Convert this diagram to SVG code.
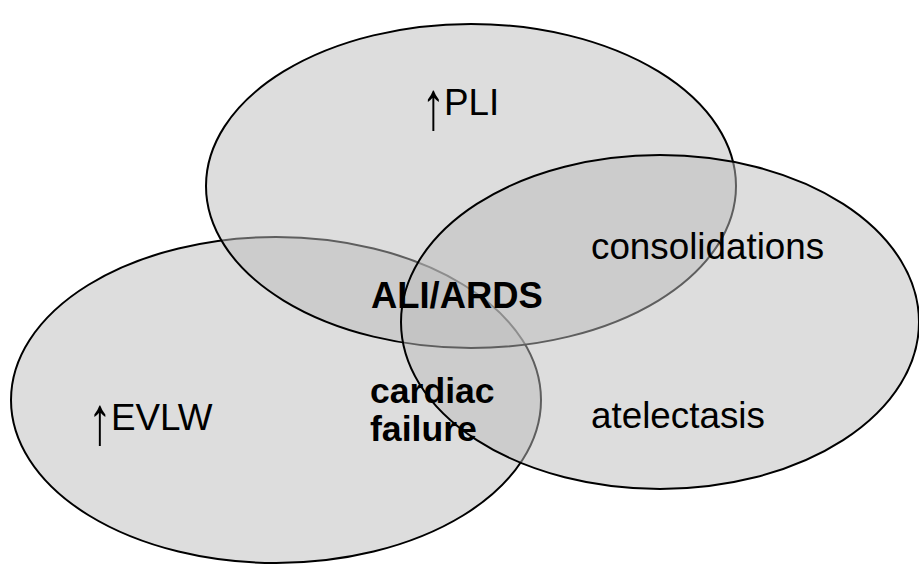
<svg xmlns="http://www.w3.org/2000/svg" width="919" height="564" viewBox="0 0 919 564">
<style>
.set{fill:#bbbbbb;fill-opacity:0.5;stroke:#000;stroke-width:2}
.t{font-family:"Liberation Sans",Arial,sans-serif;font-size:36.8px;fill:#000}
.b{font-weight:bold;font-size:35.6px}
.ar{font-family:"Liberation Sans",Arial,sans-serif;font-size:36px;fill:#000}
</style>
<rect width="919" height="564" fill="#fff"/>
<g id="evlw">
<ellipse class="set" cx="276" cy="400" rx="265" ry="163"/>
</g>
<g id="pli">
<ellipse class="set" cx="471" cy="186" rx="265" ry="162"/>
</g>
<g id="consol">
<ellipse class="set" cx="660" cy="322" rx="259" ry="167"/>
</g>
<g id="connectors"></g>
<g id="labels">
<text class="ar" transform="translate(421.5,128.7) scale(1.3,1.9)">↑</text>
<text class="t" x="444" y="115">PLI</text>
<text class="t" x="591" y="259">consolidations</text>
<text class="t" x="591" y="428">atelectasis</text>
<text class="ar" transform="translate(88,443.7) scale(1.3,1.9)">↑</text>
<text class="t" x="111" y="430">EVLW</text>
<text class="t b" x="371" y="308" style="font-size:36.4px">ALI/ARDS</text>
<text class="t b" x="370" y="403">cardiac</text>
<text class="t b" x="370" y="441">failure</text>
</g>
</svg>
